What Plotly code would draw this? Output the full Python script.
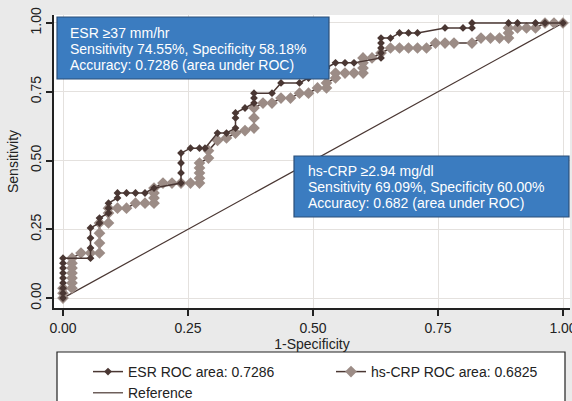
import plotly.graph_objects as go

# ---------------- data ----------------
esr_fpr = [0, 0, 0, 0, 0, 0, 0, 0, 0,
           0.055, 0.055, 0.055, 0.055, 0.073, 0.073, 0.091, 0.091, 0.091,
           0.109, 0.109, 0.127, 0.145, 0.164, 0.182,
           0.236, 0.236, 0.236, 0.236, 0.255, 0.273, 0.284,
           0.309, 0.327, 0.345, 0.345, 0.345, 0.364, 0.382, 0.382, 0.382,
           0.418, 0.436, 0.473, 0.491, 0.509, 0.527, 0.545, 0.564, 0.582,
           0.636, 0.636, 0.636, 0.636, 0.636, 0.655, 0.673, 0.691, 0.709,
           0.764, 0.8, 0.818, 0.818, 0.891, 0.909, 0.945, 0.964, 1.0]
esr_tpr = [0, 0.018, 0.036, 0.055, 0.073, 0.091, 0.109, 0.127, 0.145,
           0.145, 0.182, 0.218, 0.255, 0.273, 0.291, 0.309, 0.327, 0.345,
           0.364, 0.382, 0.382, 0.382, 0.382, 0.4,
           0.418, 0.455, 0.491, 0.527, 0.545, 0.545, 0.545,
           0.6, 0.6, 0.618, 0.655, 0.673, 0.691, 0.709, 0.727, 0.745,
           0.745, 0.782, 0.782, 0.8, 0.818, 0.836, 0.855, 0.855, 0.855,
           0.873, 0.891, 0.909, 0.927, 0.945, 0.945, 0.964, 0.964, 0.964,
           0.982, 0.982, 0.982, 1.0, 1.0, 1.0, 1.0, 1.0, 1.0]

crp_fpr = [0, 0, 0, 0.018, 0.018, 0.018, 0.018, 0.018, 0.018, 0.018,
           0.036, 0.055, 0.073, 0.073, 0.073, 0.073, 0.091, 0.091, 0.091,
           0.109, 0.127, 0.145, 0.164, 0.182, 0.182, 0.182, 0.182,
           0.2, 0.218, 0.236, 0.255, 0.273, 0.273, 0.273, 0.273, 0.273,
           0.291, 0.291, 0.309, 0.327, 0.345, 0.364, 0.382, 0.382, 0.382,
           0.4, 0.418, 0.436, 0.455, 0.473, 0.491, 0.509, 0.527, 0.527,
           0.545, 0.545, 0.564, 0.582, 0.6, 0.6, 0.6, 0.6, 0.618, 0.636,
           0.655, 0.673, 0.691, 0.709, 0.727, 0.745, 0.764, 0.782, 0.818,
           0.836, 0.855, 0.873, 0.891, 0.891, 0.891, 0.909, 0.927, 0.945,
           0.964, 0.982, 1.0]
crp_tpr = [0, 0.018, 0.036, 0.036, 0.055, 0.073, 0.091, 0.109, 0.127, 0.145,
           0.164, 0.164, 0.164, 0.2, 0.236, 0.273, 0.273, 0.309, 0.327,
           0.327, 0.327, 0.345, 0.345, 0.345, 0.364, 0.382, 0.4,
           0.418, 0.418, 0.418, 0.418, 0.418, 0.436, 0.455, 0.473, 0.491,
           0.509, 0.536, 0.573, 0.582, 0.6, 0.609, 0.618, 0.655, 0.691,
           0.709, 0.709, 0.727, 0.727, 0.745, 0.745, 0.764, 0.764, 0.782,
           0.8, 0.818, 0.818, 0.818, 0.818, 0.836, 0.855, 0.873, 0.873, 0.891,
           0.909, 0.909, 0.909, 0.909, 0.909, 0.927, 0.927, 0.927, 0.927,
           0.945, 0.945, 0.945, 0.945, 0.964, 0.982, 0.982, 0.982, 0.982,
           1.0, 1.0, 1.0]

ref_x = [0, 1]
ref_y = [0, 1]

series_names = ["ESR ROC area: 0.7286", "hs-CRP ROC area: 0.6825", "Reference"]
tick_vals = [0, 0.25, 0.5, 0.75, 1.0]
tick_text = ["0.00", "0.25", "0.50", "0.75", "1.00"]
box1_lines = ["ESR \u226537 mm/hr",
              "Sensitivity 74.55%, Specificity 58.18%",
              "Accuracy: 0.7286 (area under ROC)"]
box2_lines = ["hs-CRP \u22652.94 mg/dl",
              "Sensitivity 69.09%, Specificity 60.00%",
              "Accuracy: 0.682 (area under ROC)"]
x_title = "1-Specificity"
y_title = "Sensitivity"

# ---------------- styling ----------------
W, H = 572, 401
ML, MR, MT, MB = 54, 2, 15, 93
PW, PH = W - ML - MR, H - MT - MB
FONT = "Arial, Liberation Sans, sans-serif"
DARK = "#4a3733"
GRAYM = "#9c8c86"
BLUE = "#3b7cc0"


def px(x):
    return (x - ML) / PW


def py(y):
    return (H - MB - y) / PH


fig = go.Figure()
fig.add_trace(go.Scatter(x=ref_x, y=ref_y, mode="lines", name=series_names[2],
                         line=dict(color=DARK, width=1.2), legendrank=3))
fig.add_trace(go.Scatter(x=crp_fpr, y=crp_tpr, mode="lines+markers", name=series_names[1],
                         line=dict(color=DARK, width=1.5),
                         marker=dict(symbol="diamond", size=9, color=GRAYM,
                                     line=dict(width=0)), legendrank=2))
fig.add_trace(go.Scatter(x=esr_fpr, y=esr_tpr, mode="lines+markers", name=series_names[0],
                         line=dict(color=DARK, width=1.5),
                         marker=dict(symbol="diamond", size=6, color=DARK,
                                     line=dict(width=0)), legendrank=1))

shapes = []
# legend frame
shapes.append(dict(type="rect", xref="paper", yref="paper",
                   x0=px(57), x1=px(565), y0=py(352), y1=py(420),
                   fillcolor="white", line=dict(color="#222222", width=1.2),
                   layer="below"))
# annotation boxes
shapes.append(dict(type="rect", xref="paper", yref="paper",
                   x0=px(57), x1=px(329), y0=py(17), y1=py(79),
                   fillcolor=BLUE, line=dict(color="#2b4f78", width=1.2),
                   layer="above"))
shapes.append(dict(type="rect", xref="paper", yref="paper",
                   x0=px(294), x1=px(569), y0=py(156), y1=py(217),
                   fillcolor=BLUE, line=dict(color="#2b4f78", width=1.2),
                   layer="above"))

annotations = []
for i, t in enumerate(box1_lines):
    annotations.append(dict(text=t, xref="paper", yref="paper", x=px(68), y=py(33 + 16 * i),
                            xanchor="left", yanchor="middle", showarrow=False,
                            font=dict(family=FONT, size=14, color="white")))
for i, t in enumerate(box2_lines):
    annotations.append(dict(text=t, xref="paper", yref="paper", x=px(306), y=py(171 + 16 * i),
                            xanchor="left", yanchor="middle", showarrow=False,
                            font=dict(family=FONT, size=14, color="white")))

axis_common = dict(tickmode="array", tickvals=tick_vals, ticktext=tick_text,
                   showline=True, linecolor="#222222", linewidth=1.5,
                   ticks="outside", ticklen=6, tickwidth=1.5, tickcolor="#222222",
                   showgrid=True, gridcolor="#e4e1de", gridwidth=1,
                   zeroline=False, mirror=False, ticklabeloverflow="allow",
                   tickfont=dict(family=FONT, size=14, color="#222222"))

fig.update_layout(
    width=W, height=H,
    margin=dict(l=ML, r=MR, t=MT, b=MB, pad=0, autoexpand=False),
    paper_bgcolor="#eaeaea", plot_bgcolor="white",
    font=dict(family=FONT, size=14, color="#222222"),
    xaxis=dict(range=[-0.018, 1.014], title=dict(text=x_title, font=dict(size=14), standoff=4),
               **axis_common),
    yaxis=dict(range=[-0.036, 1.029], tickangle=-90,
               title=dict(text=y_title, font=dict(size=14), standoff=6), **axis_common),
    showlegend=True,
    legend=dict(orientation="h", x=px(88), y=py(356), xanchor="left", yanchor="top",
                bgcolor="rgba(0,0,0,0)", borderwidth=0, entrywidth=198,
                entrywidthmode="pixels", traceorder="normal", tracegroupgap=0,
                font=dict(family=FONT, size=14, color="#222222")),
    shapes=shapes,
    annotations=annotations,
)

fig.write_html("out.html")
